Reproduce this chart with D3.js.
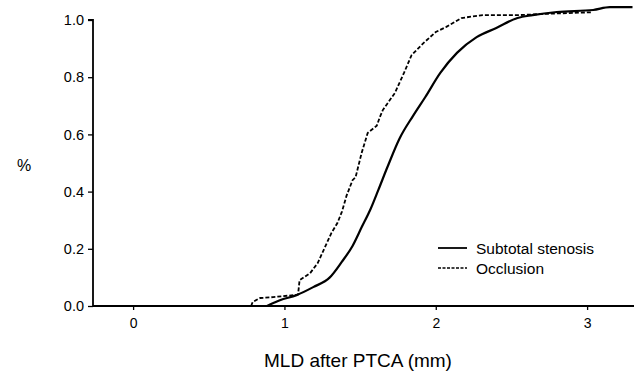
<!DOCTYPE html>
<html><head><meta charset="utf-8">
<script src="https://cdn.jsdelivr.net/npm/d3@7"></script>
<style>
body{margin:0;background:#fff;}
svg{display:block;font-family:"Liberation Sans",Arial,Helvetica,sans-serif;}
</style></head>
<body>
<svg id="chart" width="634" height="373"></svg>
<script>
// Data (cumulative distribution of MLD after PTCA)
const occlusionX = [0.78,0.79,0.84,0.925,1.06,1.09,1.10,1.17,1.22,1.25,1.28,1.31,1.35,1.38,1.41,1.45,1.47,1.51,1.55,1.61,1.63,1.65,1.73,1.79,1.84,1.92,2.00,2.07,2.17,2.31,2.54,2.75,3.03];
const occlusionY = [0,0.014,0.028,0.031,0.038,0.04,0.09,0.115,0.15,0.185,0.22,0.255,0.29,0.33,0.385,0.44,0.45,0.535,0.605,0.63,0.66,0.685,0.745,0.815,0.877,0.92,0.958,0.976,1.007,1.017,1.017,1.022,1.027];
const stenosisX = [0.885,0.97,1.08,1.19,1.30,1.38,1.45,1.51,1.57,1.62,1.68,1.76,1.85,1.93,2.03,2.14,2.27,2.40,2.54,2.64,2.80,3.04,3.15,3.30];
const stenosisY = [0,0.02,0.038,0.066,0.10,0.155,0.21,0.275,0.34,0.405,0.485,0.585,0.665,0.73,0.815,0.885,0.94,0.972,1.007,1.017,1.028,1.035,1.045,1.045];
const xTicks = [0,1,2,3];
const yTicks = [0,0.2,0.4,0.6,0.8,1.0];
const seriesNames = ["Subtotal stenosis","Occlusion"];
const xTitle = "MLD after PTCA (mm)";
const yTitle = "%";

const svg = d3.select("#chart");
const x = d3.scaleLinear().domain([-0.265,3.3]).range([93,632.5]);
const y = d3.scaleLinear().domain([0,1]).range([306,20]);

// axes
const xAxis = svg.append("g").attr("transform","translate(0,306)")
  .call(d3.axisBottom(x).tickValues(xTicks).tickFormat(d3.format("d")).tickSize(4).tickPadding(8));
xAxis.select(".domain").remove();
svg.append("line").attr("x1",93).attr("x2",634).attr("y1",306).attr("y2",306)
  .attr("stroke","#000").attr("stroke-width",1.8);
xAxis.selectAll("line").attr("stroke-width",1.3);
xAxis.selectAll("text").attr("font-size",14).attr("fill","#000");

const yAxis = svg.append("g").attr("transform","translate(93,0)")
  .call(d3.axisLeft(y).tickValues(yTicks).tickFormat(d3.format(".1f")).tickSize(5).tickPadding(4));
yAxis.select(".domain").attr("stroke-width",1.8).attr("d","M-5,20H0V306");
yAxis.selectAll("line").attr("stroke-width",1.3);
yAxis.selectAll("text").attr("font-size",14.5).attr("fill","#000");

// curves
const pts = (xs,ys)=>xs.map((v,i)=>[v,ys[i]]);
const smooth = d3.line().x(d=>x(d[0])).y(d=>y(d[1])).curve(d3.curveMonotoneX);
const line = d3.line().x(d=>x(d[0])).y(d=>y(d[1]));
svg.append("path").datum(pts(stenosisX,stenosisY)).attr("d",smooth)
  .attr("fill","none").attr("stroke","#000").attr("stroke-width",2.2).attr("stroke-linejoin","round");
svg.append("path").datum(pts(occlusionX,occlusionY)).attr("d",line)
  .attr("fill","none").attr("stroke","#000").attr("stroke-width",1.8).attr("stroke-dasharray","4,2");

// legend
const lg = svg.append("g");
[0,1].forEach(i=>{
  const yy = 248 + i*20;
  lg.append("line").attr("x1",438).attr("x2",467).attr("y1",yy).attr("y2",yy)
    .attr("stroke","#000").attr("stroke-width",i===0?1.8:1.4)
    .attr("stroke-dasharray",i===0?null:"3,1.5");
  lg.append("text").attr("x",476).attr("y",yy+5.5).attr("font-size",15.5).text(seriesNames[i]);
});

// titles
svg.append("text").attr("x",358).attr("y",367).attr("text-anchor","middle")
  .attr("font-size",19).text(xTitle);
svg.append("text").attr("x",24).attr("y",171).attr("text-anchor","middle")
  .attr("font-size",16).text(yTitle);
</script>
</body></html>
